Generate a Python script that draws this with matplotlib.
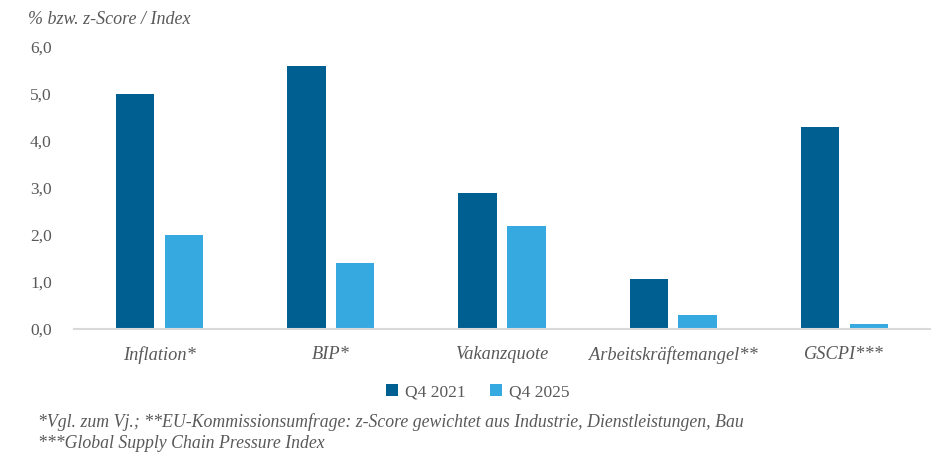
import matplotlib
matplotlib.use("Agg")
import matplotlib.pyplot as plt
import numpy as np

categories = ["Inflation*", "BIP*", "Vakanzquote", "Arbeitskräftemangel**", "GSCPI***"]
q4_2021 = [5.0, 5.6, 2.9, 1.07, 4.3]
q4_2025 = [2.0, 1.4, 2.2, 0.3, 0.1]
series_labels = ["Q4 2021", "Q4 2025"]
yticks = [0.0, 1.0, 2.0, 3.0, 4.0, 5.0, 6.0]

DARK = "#005F91"
LIGHT = "#36A9E1"
GREY = "#595959"
FONT = "Liberation Serif"

plt.rcParams["font.family"] = [FONT, "DejaVu Serif"]

fig = plt.figure(figsize=(9.45, 4.55), dpi=100)
ax = fig.add_axes([74 / 945, 1 - 329 / 455, 856 / 945, 282 / 455])

x = np.arange(len(categories))
w = 0.225
gap = 0.03
ax.bar(x - w / 2 - gap, q4_2021, w, color=DARK, label=series_labels[0])
ax.bar(x + w / 2 + gap, q4_2025, w, color=LIGHT, label=series_labels[1])

ax.set_xlim(-0.5, len(categories) - 0.5)
ax.set_ylim(0, 6)
ax.set_yticks(yticks)
ax.set_yticklabels([f"{v:.1f}".replace(".", ",") for v in yticks], color=GREY, fontsize=12.5)
ax.set_xticks(x)
ax.set_xticklabels(categories, color=GREY, fontsize=13.2, style="italic")
ax.tick_params(axis="both", length=0)
ax.tick_params(axis="y", pad=16)
ax.tick_params(axis="x", pad=12)

for side in ["top", "right", "left"]:
    ax.spines[side].set_visible(False)
ax.spines["bottom"].set_color("#D9D9D9")
ax.spines["bottom"].set_linewidth(1.5)

fig.text(28 / 945, 1 - 20 / 455, "% bzw. z-Score / Index", color=GREY, fontsize=13,
         style="italic", va="center", ha="left")

fig.legend(loc="center", bbox_to_anchor=(478 / 945, 1 - 392 / 455), ncol=2, frameon=False,
           fontsize=12.5, labelcolor=GREY, handlelength=0.7, handleheight=0.7,
           handletextpad=0.4, columnspacing=1.4)

fig.text(38 / 945, 1 - 422 / 455,
         "*Vgl. zum Vj.; **EU-Kommissionsumfrage: z-Score gewichtet aus Industrie, Dienstleistungen, Bau",
         color=GREY, fontsize=12.8, style="italic", va="center", ha="left")
fig.text(38 / 945, 1 - 443 / 455, "***Global Supply Chain Pressure Index",
         color=GREY, fontsize=12.8, style="italic", va="center", ha="left")

fig.savefig("out.png", dpi=100)
